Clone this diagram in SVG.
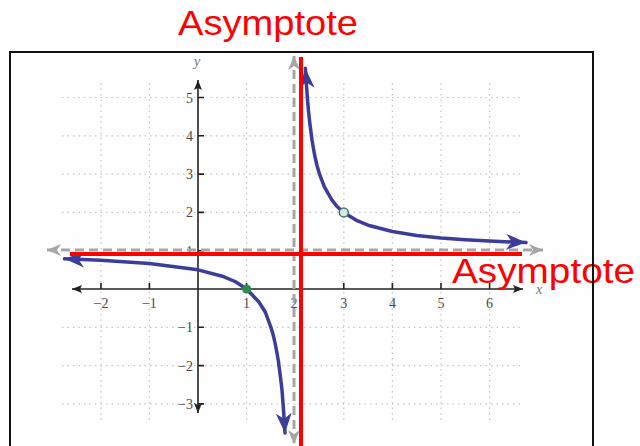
<svg xmlns="http://www.w3.org/2000/svg" width="640" height="446" viewBox="0 0 640 446">
<style>
.grid{stroke:#c4c4c4;stroke-width:1.2;stroke-dasharray:1.5 4;fill:none}
.axis{stroke:#222;stroke-width:1.6;fill:none}
.tick{stroke:#222;stroke-width:1.6}
.num{font-family:"Liberation Serif",serif;font-size:14px;fill:#4a4a4a}
.var{font-family:"Liberation Serif",serif;font-size:14px;font-style:italic;fill:#777}
.asym{stroke:#a6a6a6;stroke-width:3;stroke-dasharray:9 5;fill:none}
.curve{stroke:#3c3c9a;stroke-width:3.5;fill:none;stroke-linejoin:round;stroke-linecap:round}
.red{stroke:#ff0000;stroke-width:4;fill:none}
.lbl{font-family:"Liberation Sans",Arial,sans-serif;font-size:35px;fill:#ff0000}
</style>
<defs>
<marker id="ab" markerUnits="userSpaceOnUse" markerWidth="10" markerHeight="10" viewBox="0 0 10 10" refX="10" refY="5" orient="auto-start-reverse"><path d="M0,1 L10,5 L0,9 L2,5 Z" fill="#222"/></marker>
<marker id="ag" markerUnits="userSpaceOnUse" markerWidth="14" markerHeight="14" viewBox="0 0 14 14" refX="14" refY="7" orient="auto-start-reverse"><path d="M0,1 L14,7 L0,13 L4,7 Z" fill="#a6a6a6"/></marker>
<marker id="ac" markerUnits="userSpaceOnUse" markerWidth="20" markerHeight="16" viewBox="0 0 20 16" refX="20" refY="8" orient="auto-start-reverse"><path d="M0,0 L20,8 L0,16 L6,8 Z" fill="#3c3c9a"/></marker>
</defs>
<rect x="0" y="0" width="640" height="446" fill="#fff"/>
<rect x="10" y="52" width="583" height="400" fill="#fefefe"/>
<g id="grid" class="grid">
<path d="M101,83V422M149.4,83V422M246.6,83V422M343.8,83V422M392.4,83V422M441,83V422M489.6,83V422"/>
<path d="M62,97.5H523M62,135.8H523M62,174.1H523M62,212.4H523M62,327.3H523M62,365.6H523M62,403.9H523"/>
</g>
<g id="axes">
<line class="axis" x1="72" y1="289" x2="523" y2="289" marker-start="url(#ab)" marker-end="url(#ab)"/>
<line class="axis" x1="198" y1="80" x2="198" y2="413" marker-start="url(#ab)" marker-end="url(#ab)"/>
<path class="tick" d="M101,283V289M149.4,283V289M246.6,283V289M294,283V289M343.8,283V289M392.4,283V289M441,283V289M489.6,283V289"/>
<path class="tick" d="M198,97.5H204M198,135.8H204M198,174.1H204M198,212.4H204M198,250.7H204M198,327.3H204M198,365.6H204M198,403.9H204"/>
<g class="num" text-anchor="middle">
<text x="101" y="308">−2</text><text x="149.4" y="308">−1</text><text x="246.6" y="308">1</text><text x="294" y="308">2</text><text x="343.8" y="308">3</text><text x="392.4" y="308">4</text><text x="441" y="308">5</text><text x="489.6" y="308">6</text>
</g>
<g class="num" text-anchor="end">
<text x="193" y="102.5">5</text><text x="193" y="140.8">4</text><text x="193" y="179.1">3</text><text x="193" y="217.4">2</text><text x="193" y="255.7">1</text><text x="193" y="332.3">−1</text><text x="193" y="370.6">−2</text><text x="193" y="408.9">−3</text>
</g>
<text class="var" x="539" y="294" text-anchor="middle">x</text>
<text class="var" x="197" y="66" text-anchor="middle">y</text>
</g>
<g id="connectors">
<line class="asym" x1="47" y1="250" x2="543" y2="250" marker-start="url(#ag)" marker-end="url(#ag)"/>
<line class="asym" x1="294" y1="56" x2="294" y2="444" marker-start="url(#ag)" marker-end="url(#ag)"/>
<polyline id="upper-branch" class="curve" marker-start="url(#ac)" marker-end="url(#ac)" points="305.4,68.3 306.3,83 307.35,97.5 308.5,111 309.8,123 312,140 314.6,155 317,165.5 319.5,174.1 324.4,186.9 331.65,199.6 337,206.5 343.8,212.4 355.95,220.1 368.1,225.2 392.4,231.55 416.7,235.4 441,237.9 465.3,239.7 489.6,241.1 526,242.6"/>
<polyline id="lower-branch" class="curve" marker-start="url(#ac)" marker-end="url(#ac)" points="64.4,258.8 100.8,260.3 149.4,263.5 198,269.85 222.3,276.2 235,281.5 246.6,289 258.75,301.8 265.5,312.5 270.9,327.3 273.5,336 275.76,346.45 278.3,360.5 280.6,378.4 282,390 283.05,403.9 284,417 285,433"/>
<line class="red" x1="70" y1="254" x2="522" y2="254"/>
<line class="red" x1="301" y1="57" x2="301" y2="446"/>
</g>
<g id="points">
<circle cx="246.6" cy="289" r="4.5" fill="#2f8a4e"/>
<circle cx="343.8" cy="212.4" r="4.5" fill="#dde6e6" stroke="#3f7a70" stroke-width="1.5"/>
</g>
<g id="labels">
<text class="lbl" x="178" y="35" textLength="180" lengthAdjust="spacingAndGlyphs">Asymptote</text>
<text class="lbl" x="452" y="283" textLength="183" lengthAdjust="spacingAndGlyphs">Asymptote</text>
</g>
<rect id="frame" x="10" y="52" width="583" height="400" fill="none" stroke="#111" stroke-width="2"/>
</svg>
